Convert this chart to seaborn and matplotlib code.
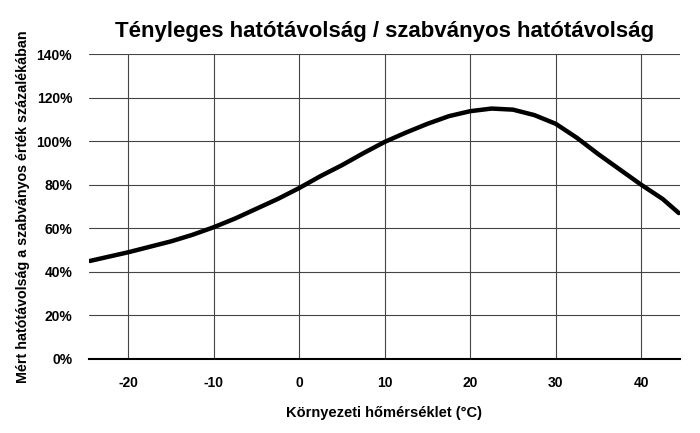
import pandas as pd
import seaborn as sns
import matplotlib.pyplot as plt
from matplotlib.ticker import PercentFormatter

# hőmérséklet (°C) és a mért hatótávolság (%)
temps = [-24.5, -20, -17.5, -15, -12.5, -10, -7.5, -5, -2.5, 0, 2.5, 5, 7.5, 10,
         12.5, 15, 17.5, 20, 22.5, 25, 27.5, 30, 32.5, 35, 37.5, 40, 42.5, 44.4]
range_pct = [45, 49, 51.5, 54, 57, 60.5, 64.5, 69, 73.5, 78.5, 84, 89, 94.5, 99.7,
             104, 108, 111.5, 113.8, 115, 114.5, 112, 108, 101.5, 94, 87, 80, 73.5, 67]
x_ticks = [-20, -10, 0, 10, 20, 30, 40]
y_ticks = [0, 20, 40, 60, 80, 100, 120, 140]

df = pd.DataFrame({'temp': temps, 'pct': range_pct})

sns.set_style('white')
plt.rcParams['font.family'] = ['Liberation Sans', 'DejaVu Sans']
plt.rcParams['font.weight'] = 'bold'
plt.rcParams['text.color'] = 'black'
plt.rcParams['axes.labelcolor'] = 'black'
plt.rcParams['xtick.color'] = 'black'
plt.rcParams['ytick.color'] = 'black'
plt.rcParams['axes.unicode_minus'] = False

fig = plt.figure(figsize=(7, 4.33), dpi=100)
ax = fig.add_axes([0.127, 0.171, 0.844, 0.704])

sns.lineplot(data=df, x='temp', y='pct', color='black', linewidth=3.2, ax=ax,
             solid_capstyle='round')

ax.set_xlim(-24.6, 44.5)
ax.set_ylim(0, 140)
ax.set_xticks(x_ticks)
ax.set_yticks(y_ticks)
ax.yaxis.set_major_formatter(PercentFormatter(decimals=0))
ax.grid(True, color='#444444', linewidth=0.8)
for s in ['top', 'right', 'left']:
    ax.spines[s].set_visible(False)
ax.spines['bottom'].set_color('black')
ax.spines['bottom'].set_linewidth(1.5)
ax.tick_params(length=0, labelsize=10, pad=12)
for lab in ax.get_xticklabels() + ax.get_yticklabels():
    lab.set_fontweight('bold')

ax.set_title('Tényleges hatótávolság / szabványos hatótávolság',
             fontsize=16, fontweight='bold', pad=12, color='black')
ax.set_xlabel('Környezeti hőmérséklet (°C)', fontsize=10.5, fontweight='bold', labelpad=12)
ax.set_ylabel('Mért hatótávolság a szabványos érték százalékában', fontsize=10.3,
              fontweight='bold', labelpad=5)

plt.savefig('out.png', dpi=100)
